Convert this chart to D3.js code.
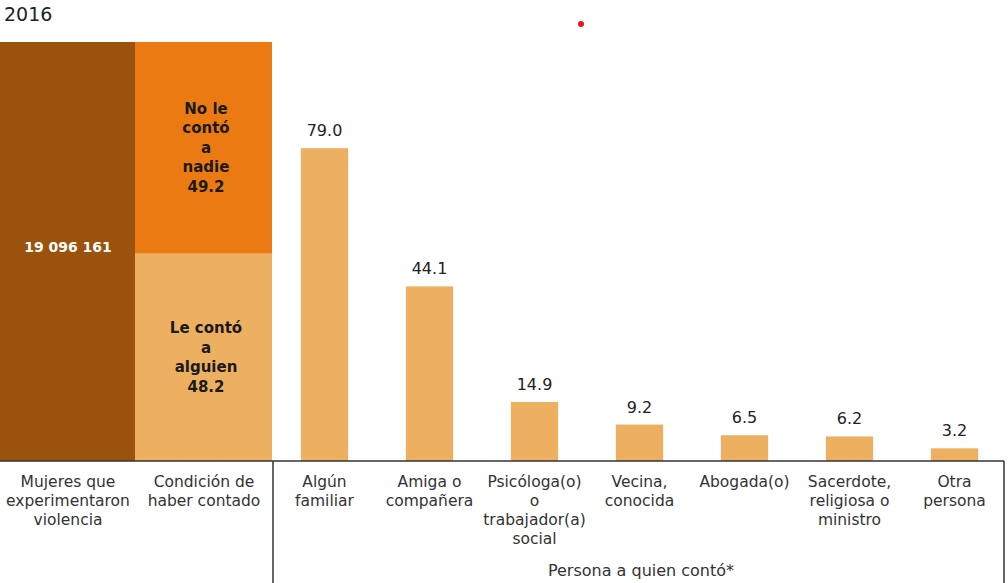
<!DOCTYPE html>
<html>
<head>
<meta charset="utf-8">
<script src="https://cdn.jsdelivr.net/npm/d3@7"></script>
<style>
  body { margin: 0; background: #fff; }
  text { font-family: "DejaVu Sans", "Liberation Sans", Arial, sans-serif; }
</style>
</head>
<body>
<svg id="chart"></svg>
<script>
var w = 1008;
var h = 583;

// left block
var totalLabel = '19 096 161';
var leftCats = ['Mujeres que|experimentaron|violencia', 'Condición de|haber contado'];
var stackNames = ['Le contó|a|alguien', 'No le|contó|a|nadie'];
var stackValues = [48.2, 49.2];

// persons told
var categories = ['Algún|familiar', 'Amiga o|compañera', 'Psicóloga(o)|o|trabajador(a)|social',
  'Vecina,|conocida', 'Abogada(o)', 'Sacerdote,|religiosa o|ministro', 'Otra|persona'];
var values = [79.0, 44.1, 14.9, 9.2, 6.5, 6.2, 3.2];

var base = 461;

var svg = d3.select('#chart').attr('width', w).attr('height', h);

svg.append('text')
  .attr('x', 4).attr('y', 21)
  .attr('font-size', '19px').attr('fill', '#222')
  .text('2016');

// red dot
svg.append('circle').attr('cx', 581).attr('cy', 24).attr('r', 3).attr('fill', '#e8141b');

var xl = d3.scaleBand().domain(leftCats).range([0, 272]);
var ys = d3.scaleLinear().domain([0, d3.sum(stackValues)]).range([base, 42]);

// total bar
svg.append('rect')
  .attr('x', xl(leftCats[0])).attr('y', 42)
  .attr('width', xl.bandwidth() - 1).attr('height', base - 42)
  .style('fill', '#9b520d');
svg.append('text')
  .attr('x', xl(leftCats[0]) + xl.bandwidth() / 2).attr('y', 252)
  .attr('text-anchor', 'middle').attr('font-size', '14px').attr('font-weight', 'bold')
  .attr('fill', '#fff').text(totalLabel);

// stacked bar
var stack = [];
var acc = 0;
stackValues.forEach(function (v, i) {
  stack.push({ name: stackNames[i], v: v, y0: acc, y1: acc + v });
  acc += v;
});
var stackColors = ['#edaf60', '#ec7a13'];

svg.selectAll('rect.stk')
  .data(stack)
  .enter()
  .append('rect')
  .attr('class', 'stk')
  .attr('x', xl(leftCats[1]) - 1)
  .attr('y', function (d) { return ys(d.y1); })
  .attr('width', xl.bandwidth() + 1)
  .attr('height', function (d) { return ys(d.y0) - ys(d.y1); })
  .style('fill', function (d, i) { return stackColors[i]; });

stack.forEach(function (d) {
  var lines = d.name.split('|').concat([d.v.toFixed(1)]);
  var mid = (ys(d.y0) + ys(d.y1)) / 2;
  var t = svg.append('text')
    .attr('text-anchor', 'middle').attr('font-size', '15px').attr('font-weight', 'bold')
    .attr('fill', '#1a1a1a');
  lines.forEach(function (l, i) {
    t.append('tspan')
      .attr('x', xl(leftCats[1]) + xl.bandwidth() / 2 + 2)
      .attr('y', mid + (i - (lines.length - 1) / 2) * 19.5 + 5)
      .text(l);
  });
});

// right bars
var x = d3.scaleBand().domain(categories).range([272, 1007]).paddingInner(0.55).paddingOuter(0.275);
var y = d3.scaleLinear().domain([0, 100]).range([base, 65]);

svg.selectAll('rect.bar')
  .data(values)
  .enter()
  .append('rect')
  .attr('class', 'bar')
  .attr('x', function (d, i) { return x(categories[i]); })
  .attr('y', function (d) { return y(d); })
  .attr('width', x.bandwidth())
  .attr('height', function (d) { return base - y(d); })
  .style('fill', '#edaf60');

svg.selectAll('text.val')
  .data(values)
  .enter()
  .append('text')
  .attr('class', 'val')
  .attr('x', function (d, i) { return x(categories[i]) + x.bandwidth() / 2; })
  .attr('y', function (d) { return y(d) - 12; })
  .attr('text-anchor', 'middle').attr('font-size', '16px').attr('fill', '#222')
  .text(function (d) { return d.toFixed(1); });

// axis lines
svg.append('line').attr('x1', 0).attr('x2', 1004).attr('y1', base).attr('y2', base)
  .attr('stroke', '#333').attr('stroke-width', 1.5);
svg.append('line').attr('x1', 273).attr('x2', 273).attr('y1', base).attr('y2', h)
  .attr('stroke', '#333').attr('stroke-width', 1.5);
svg.append('line').attr('x1', 1004).attr('x2', 1004).attr('y1', base).attr('y2', h)
  .attr('stroke', '#333').attr('stroke-width', 1.5);

function multiLabel(label, cx) {
  var t = svg.append('text')
    .attr('text-anchor', 'middle').attr('font-size', '15.5px').attr('fill', '#333');
  label.split('|').forEach(function (l, i) {
    t.append('tspan').attr('x', cx).attr('y', 487 + i * 19).text(l);
  });
}
leftCats.forEach(function (c) { multiLabel(c, xl(c) + xl.bandwidth() / 2); });
categories.forEach(function (c) { multiLabel(c, x(c) + x.bandwidth() / 2); });

svg.append('text')
  .attr('x', 641).attr('y', 576)
  .attr('text-anchor', 'middle').attr('font-size', '16px').attr('fill', '#333')
  .text('Persona a quien contó*');
</script>
</body>
</html>
